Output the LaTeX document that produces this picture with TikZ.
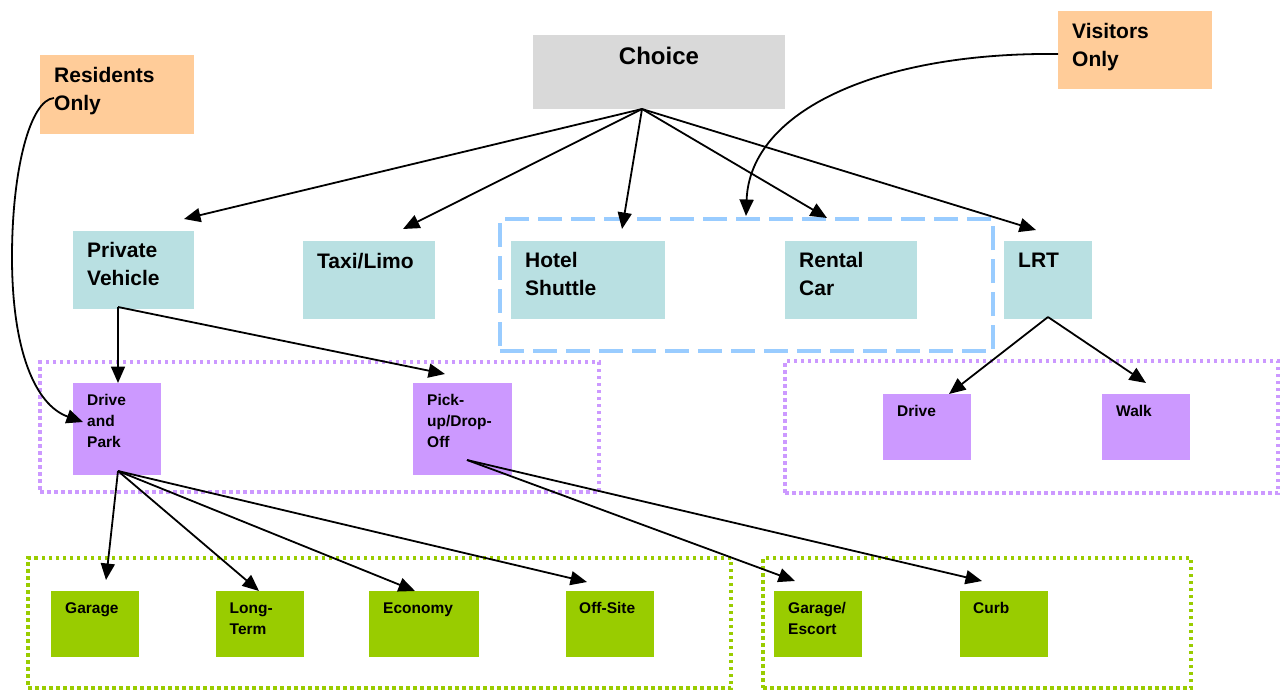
\documentclass[tikz,border=0pt]{standalone}
\usepackage{fontspec}
\setmainfont{Liberation Sans}
\usetikzlibrary{calc,arrows.meta}
\definecolor{teal1}{RGB}{185,224,226}
\definecolor{gray1}{RGB}{217,217,217}
\definecolor{orange1}{RGB}{255,204,153}
\definecolor{purple1}{RGB}{204,153,255}
\definecolor{green1}{RGB}{153,204,0}
\definecolor{blue1}{RGB}{153,204,255}
\newcommand\bigtxt{\fontsize{21}{28}\selectfont\bfseries}
\newcommand\smalltxt{\fontsize{15.5}{21}\selectfont\bfseries}
\tikzset{
  boxnode/.style={draw=none, inner sep=0pt, outer sep=0pt, anchor=north west},
  tealbox/.style={boxnode, fill=teal1},
  orangebox/.style={boxnode, fill=orange1},
  purplebox/.style={boxnode, fill=purple1},
  greenbox/.style={boxnode, fill=green1},
  bigtext/.style={inner sep=0pt, anchor=north west, align=left, font=\bigtxt},
  smalltext/.style={inner sep=0pt, anchor=north west, align=left, font=\smalltxt},
  bluefr/.style={boxnode, draw=blue1, line width=3.2pt, dash pattern=on 24pt off 9pt},
  purplefr/.style={boxnode, draw=purple1, line width=3.6pt, dash pattern=on 3.5pt off 3.5pt},
  greenfr/.style={boxnode, draw=green1, line width=3.6pt, dash pattern=on 3.5pt off 3.5pt},
  arr/.style={draw=black, line width=1.8pt, -{Triangle[length=16.5pt,width=14pt]}},
}
\begin{document}
\begin{tikzpicture}[x=1pt,y=-1pt]
\useasboundingbox (0,0) rectangle (1280,690);
% group frames
\node[bluefr, minimum width=493pt, minimum height=132pt] (gvis) at (500,219) {};
\node[purplefr, minimum width=559pt, minimum height=130pt] (gpv) at (40,362) {};
\node[purplefr, minimum width=493pt, minimum height=132pt] (glrt) at (785,361) {};
\node[greenfr, minimum width=703pt, minimum height=130pt] (gdp) at (28,558) {};
\node[greenfr, minimum width=428pt, minimum height=130pt] (gpu) at (763,558) {};
% boxes
\node[orangebox, minimum width=154pt, minimum height=79pt] (res) at (40,55) {};
\node[boxnode, fill=gray1, minimum width=252pt, minimum height=74pt] (choice) at (533,35) {};
\node[orangebox, minimum width=154pt, minimum height=78pt] (vis) at (1058,11) {};
\node[tealbox, minimum width=121pt, minimum height=78pt] (pv) at (73,231) {};
\node[tealbox, minimum width=132pt, minimum height=78pt] (taxi) at (303,241) {};
\node[tealbox, minimum width=154pt, minimum height=78pt] (hotel) at (511,241) {};
\node[tealbox, minimum width=132pt, minimum height=78pt] (rental) at (785,241) {};
\node[tealbox, minimum width=88pt, minimum height=78pt] (lrt) at (1004,241) {};
\node[purplebox, minimum width=88pt, minimum height=92pt] (dp) at (73,383) {};
\node[purplebox, minimum width=99pt, minimum height=92pt] (pu) at (413,383) {};
\node[purplebox, minimum width=88pt, minimum height=66pt] (ldrive) at (883,394) {};
\node[purplebox, minimum width=88pt, minimum height=66pt] (walk) at (1102,394) {};
\node[greenbox, minimum width=88pt, minimum height=66pt] (garage) at (51,591) {};
\node[greenbox, minimum width=88pt, minimum height=66pt] (long) at (216,591) {};
\node[greenbox, minimum width=110pt, minimum height=66pt] (econ) at (369,591) {};
\node[greenbox, minimum width=88pt, minimum height=66pt] (off) at (566,591) {};
\node[greenbox, minimum width=88pt, minimum height=66pt] (gesc) at (774,591) {};
\node[greenbox, minimum width=88pt, minimum height=66pt] (curb) at (960,591) {};
% texts
\node[bigtext] (tres) at ($(res.north west)+(14,11.7)$) {Residents\\Only};
\node[inner sep=0pt, anchor=north, font=\fontsize{24}{28}\selectfont\bfseries] (tchoice) at ($(choice.north)+(0,11.5)$) {Choice};
\node[bigtext] (tvis) at ($(vis.north west)+(14,12.3)$) {Visitors\\Only};
\node[bigtext] (tpv) at ($(pv.north west)+(14,11.3)$) {Private\\Vehicle};
\node[bigtext] (ttaxi) at ($(taxi.north west)+(14,12.3)$) {Taxi/Limo};
\node[bigtext] (thotel) at ($(hotel.north west)+(14,10.7)$) {Hotel\\Shuttle};
\node[bigtext] (trental) at ($(rental.north west)+(14,10.7)$) {Rental\\Car};
\node[bigtext] (tlrt) at ($(lrt.north west)+(14,11.7)$) {LRT};
\node[smalltext] (tdp) at ($(dp.north west)+(14,11.3)$) {Drive\\and\\Park};
\node[smalltext] (tpu) at ($(pu.north west)+(14,11.3)$) {Pick-\\up/Drop-\\Off};
\node[smalltext] (tldrive) at ($(ldrive.north west)+(14,11)$) {Drive};
\node[smalltext] (twalk) at ($(walk.north west)+(14,11)$) {Walk};
\node[smalltext] (tgarage) at ($(garage.north west)+(14,11.3)$) {Garage};
\node[smalltext] (tlong) at ($(long.north west)+(13.5,11.3)$) {Long-\\Term};
\node[smalltext] (tecon) at ($(econ.north west)+(14,11.3)$) {Economy};
\node[smalltext] (toff) at ($(off.north west)+(13,11.3)$) {Off-Site};
\node[smalltext] (tgesc) at ($(gesc.north west)+(14,11.3)$) {Garage/\\Escort};
\node[smalltext] (tcurb) at ($(curb.north west)+(13,11.3)$) {Curb};
% connectors from Choice
\draw[arr] ($(choice.south west)+(109,0)$) -- ($(pv.north west)+(111,-12)$);
\draw[arr] ($(choice.south west)+(109,0)$) -- ($(taxi.north west)+(100,-12)$);
\draw[arr] ($(choice.south west)+(109,0)$) -- ($(hotel.north west)+(111,-12)$);
\draw[arr] ($(choice.south west)+(109,0)$) -- ($(rental.north west)+(42,-23)$);
\draw[arr] ($(choice.south west)+(109,0)$) -- ($(lrt.north west)+(32,-11)$);
% curved connectors
\draw[arr] ($(vis.west)+(0,4)$) .. controls (880,52) and (750,110) .. ($(gvis.north west)+(246,-3)$);
\draw[arr] ($(res.north west)+(14,43)$) .. controls (30,100) and (12,170) .. (12,257)
  .. controls (12,350) and (35,405) .. ($(dp.north west)+(10,39)$);
% private vehicle
\draw[arr] ($(pv.north west)+(45,76)$) -- ($(dp.north west)+(45,0)$);
\draw[arr] ($(pv.north west)+(45,76)$) -- ($(pu.north west)+(32,-9)$);
% drive and park
\draw[arr] ($(dp.north west)+(45,88)$) -- ($(garage.north west)+(55,-11)$);
\draw[arr] ($(dp.north west)+(45,88)$) -- ($(long.north west)+(43,0)$);
\draw[arr] ($(dp.north west)+(45,88)$) -- ($(econ.north west)+(46,0)$);
\draw[arr] ($(dp.north west)+(45,88)$) -- ($(off.north west)+(21,-9)$);
% pick-up / drop-off
\draw[arr] ($(pu.north west)+(54,77)$) -- ($(gesc.north west)+(21,-10)$);
\draw[arr] ($(pu.north west)+(54,77)$) -- ($(curb.north west)+(22,-10)$);
% LRT
\draw[arr] ($(lrt.north west)+(44,76)$) -- ($(ldrive.north west)+(66,0)$);
\draw[arr] ($(lrt.north west)+(44,76)$) -- ($(walk.north west)+(44,-11)$);
\end{tikzpicture}
\end{document}
